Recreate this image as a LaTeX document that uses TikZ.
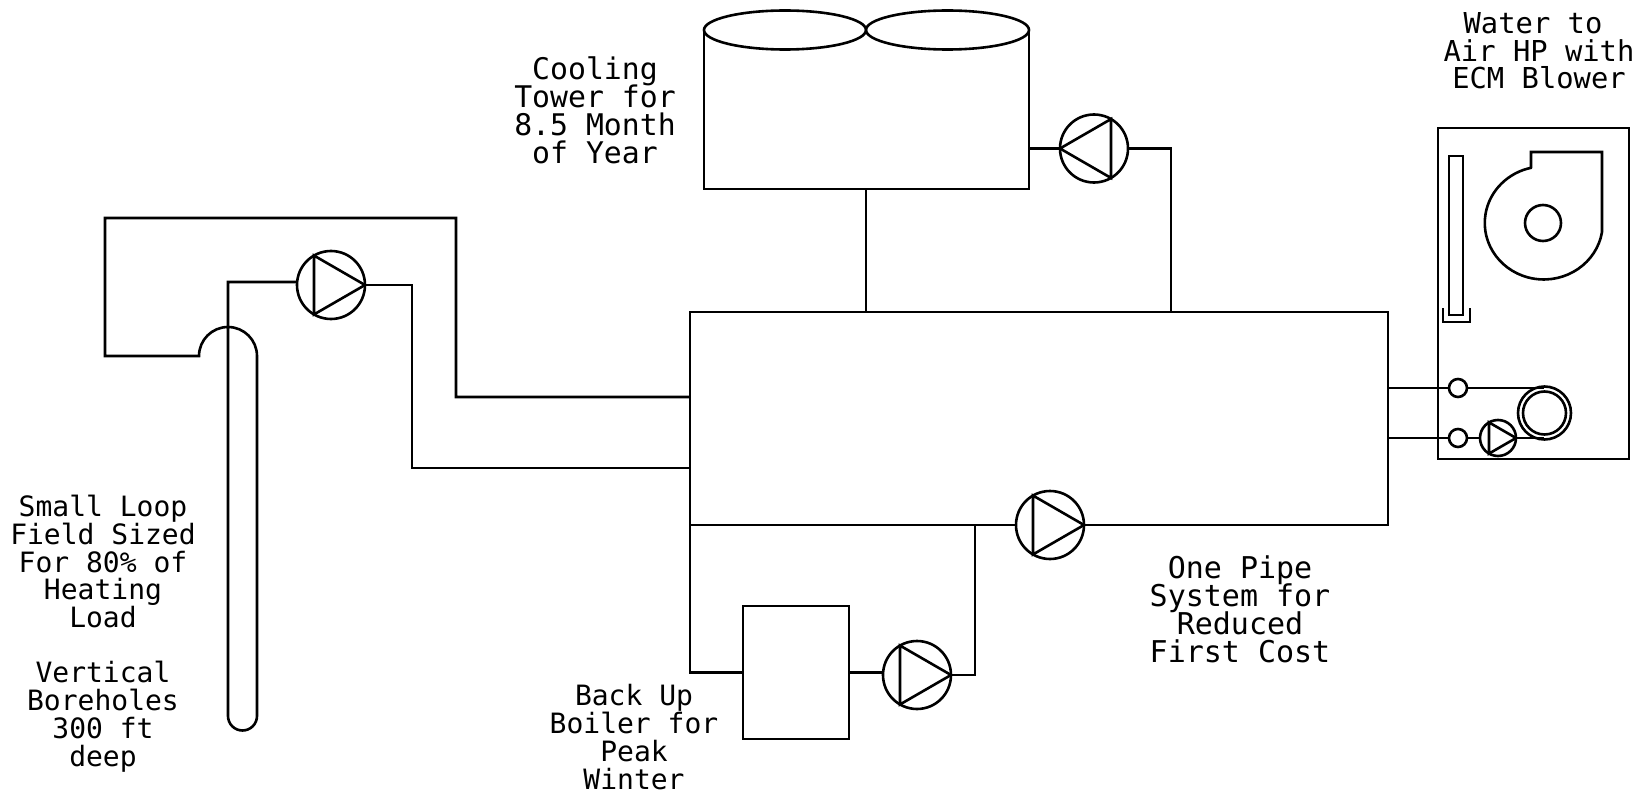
\documentclass[tikz,border=0pt]{standalone}
\usepackage{fontspec}
\setmonofont{DejaVu Sans Mono}
\usetikzlibrary{shapes.geometric}
\lineskiplimit=-20pt
\tikzset{
  pipe/.style={line width=1.3pt,line join=miter},
  pumpc/.style={circle,draw,line width=1.3pt,inner sep=0pt,outer sep=0pt},
  boxn/.style={rectangle,draw,line width=1.3pt,inner sep=0pt,outer sep=0pt},
  topell/.style={ellipse,draw,line width=1.3pt,inner sep=0pt,outer sep=0pt,minimum height=19.5pt},
  lab/.style={align=center,inner sep=0pt,outer sep=0pt,anchor=base,font=\ttfamily\fontsize{#1}{13.85}\selectfont}
}
% name, x, y, radius in pt (= px diameter/2), angle of tip
\newcommand{\pumpsym}[5]{%
  \node[pumpc,minimum size=#4pt] (#1) at (#2,#3) {};
  \draw[pipe] (#1.#5) -- (#1.{#5+120}) -- (#1.{#5+240}) -- cycle;
}
\begin{document}
\begin{tikzpicture}[x=0.5pt,y=-0.5pt]
\useasboundingbox (0,0) rectangle (1639,792);
% pumps
\pumpsym{pL}{331}{285}{34}{0}
\pumpsym{pT}{1094}{148.5}{34}{180}
\pumpsym{pB}{1050}{525}{34}{0}
\pumpsym{pK}{917}{675}{34}{0}
\pumpsym{pH}{1498}{438}{18}{0}
% main loop corners
\coordinate (mTL) at (690,312);
\coordinate (mTR) at (1388,312);
\coordinate (mBL) at (690,525);
\coordinate (mBR) at (1388,525);
\draw[pipe] (mBL) -- (mTL) -- (mTR) -- (mBR) -- (pB.east);
\draw[pipe] (mBL) -- (pB.west);
% cooling tower
\node[topell,minimum width=81pt] (el1) at (785,30) {};
\node[topell,minimum width=81.5pt] (el2) at (947.5,30) {};
\coordinate (twBL) at (704,189);
\coordinate (twBR) at (1029,189);
\draw[pipe] (el1.west) -- (twBL) -- (twBR) -- (el2.east);
\coordinate (twS) at (866,189);
\coordinate (mS1) at (866,312);
\draw[pipe] (twS) -- (mS1);
\coordinate (twP) at (1029,148.5);
\coordinate (mS2) at (1171,312);
\coordinate (cR) at (1171,148.5);
\draw[pipe] (twP) -- (pT.west);
\draw[pipe] (pT.east) -- (cR) -- (mS2);
% ground loop
\coordinate (lA) at (199,356);
\coordinate (lB) at (105,356);
\coordinate (lC) at (105,218);
\coordinate (lD) at (456,218);
\coordinate (lE) at (456,397);
\coordinate (mE) at (690,397);
\coordinate (hRb) at (257,716);
\coordinate (hTop) at (228,282);
\coordinate (pRa) at (412,285);
\coordinate (pRb) at (412,468);
\coordinate (mF) at (690,468);
\draw[pipe] (mE) -- (lE) -- (lD) -- (lC) -- (lB) -- (lA)
  arc[start angle=180,end angle=0,radius=14.5pt] -- (hRb)
  arc[start angle=0,end angle=-180,radius=7.25pt] -- (hTop) -- (pL.west |- hTop);
\draw[pipe] (pL.east) -- (pRa) -- (pRb) -- (mF);
% boiler
\node[boxn,minimum width=53pt,minimum height=66.5pt] (boiler) at (796,672.5) {};
\coordinate (bL) at (690,672.5);
\coordinate (bR) at (975,675);
\coordinate (bU) at (975,525);
\draw[pipe] (mBL) -- (bL) -- (boiler.west);
\draw[pipe] (boiler.east) -- (pK.west |- boiler.east);
\draw[pipe] (pK.east) -- (bR) -- (bU);
% heat pump
\node[boxn,minimum width=95.5pt,minimum height=165.5pt] (hp) at (1533.5,293.5) {};
\node[boxn,minimum width=7pt,minimum height=79.5pt] (filter) at (1456,235.5) {};
\coordinate (trA) at (1443,308);
\coordinate (trB) at (1443,322);
\coordinate (trC) at (1470,322);
\coordinate (trD) at (1470,308);
\draw[pipe] (trA) -- (trB) -- (trC) -- (trD);
\node[pumpc,minimum size=18pt] (hub) at (1543,223) {};
\coordinate (blA) at (1531,168);
\coordinate (blB) at (1531,152);
\coordinate (blC) at (1602,152);
\coordinate (blD) at (1602,232);
\draw[pipe] (blA) -- (blB) -- (blC) -- (blD)
  arc[start angle=-9.2,end angle=-258.3,x radius=29.5pt,y radius=28.25pt];
\node[pumpc,minimum size=9pt] (v1) at (1458,388) {};
\node[pumpc,minimum size=9pt] (v2) at (1458,438) {};
\node[pumpc,minimum size=26.5pt] (coilO) at (1544.5,413) {};
\node[pumpc,minimum size=21.5pt] (coilI) at (1544.5,413) {};
\coordinate (hA) at (1388,388);
\coordinate (hB) at (1388,438);
\coordinate (cT) at (1544,388);
\coordinate (cB) at (1544,438);
\draw[pipe] (hA) -- (v1.west);
\draw[pipe] (v1.east) -- (cT);
\draw[pipe] (hB) -- (v2.west);
\draw[pipe] (v2.east) -- (pH.west);
\draw[pipe] (pH.east) -- (cB);
% labels
\node[lab=14.4] (tHP) at (1539,89) {Water to\hspace*{6pt}\\Air HP with\\ECM Blower};
\node[lab=14.9] (tCT) at (595,163) {Cooling\\Tower for\\8.5 Month\\of Year};
\node[lab=14] (tLF) at (103,766) {Small Loop\\Field Sized\\For 80\% of\\Heating\\Load\\[13.85pt]Vertical\\Boreholes\\300 ft\\deep};
\node[lab=15] (tOP) at (1240,662) {One Pipe\\System for\\Reduced\\First Cost};
\node[lab=14] (tBB) at (634,789) {Back Up\\Boiler for\\Peak\\Winter};
\end{tikzpicture}
\end{document}
